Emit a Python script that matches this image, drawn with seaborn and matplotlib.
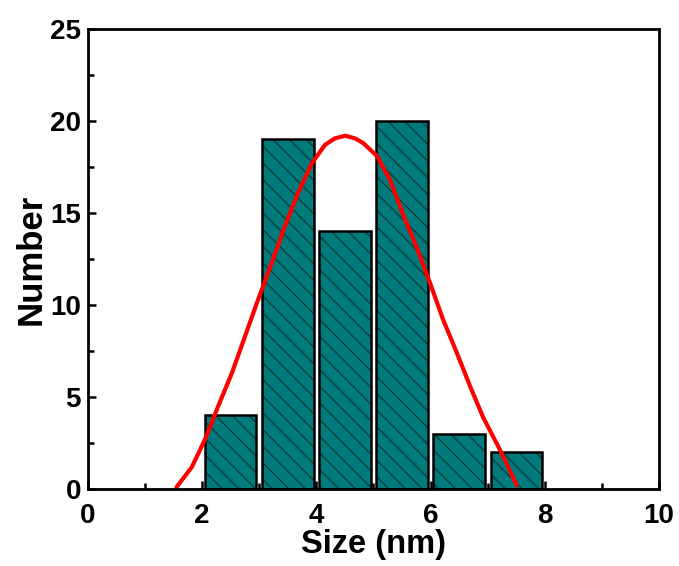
import numpy as np
import pandas as pd
import matplotlib
matplotlib.use("Agg")
import matplotlib.pyplot as plt
import seaborn as sns

# histogram data (bin centres / counts)
bin_edges = [2, 3, 4, 5, 6, 7, 8]
bin_centers = [2.5, 3.5, 4.5, 5.5, 6.5, 7.5]
counts = [4, 19, 14, 20, 3, 2]

# fitted curve
fit_x = [1.55, 1.82, 2.05, 2.28, 2.52, 2.75, 2.98, 3.22, 3.45, 3.68,
         3.92, 4.15, 4.32, 4.51, 4.68, 4.82, 5.06, 5.29, 5.52, 5.76,
         5.99, 6.22, 6.46, 6.69, 6.92, 7.22, 7.51]
fit_y = [0.1, 1.2, 2.7, 4.5, 6.3, 8.3, 10.3, 12.3, 14.3, 16.1,
         17.7, 18.7, 19.05, 19.2, 19.05, 18.8, 18.1, 16.8, 14.9, 13.1,
         11.2, 9.2, 7.4, 5.6, 3.9, 2.1, 0.2]

sns.set_style("ticks")
plt.rcParams['font.family'] = ['Liberation Sans', 'DejaVu Sans']
plt.rcParams['font.weight'] = 'bold'
plt.rcParams['text.color'] = 'black'
plt.rcParams['axes.labelcolor'] = 'black'
plt.rcParams['xtick.color'] = 'black'
plt.rcParams['ytick.color'] = 'black'
plt.rcParams['axes.edgecolor'] = 'black'
plt.rcParams['hatch.linewidth'] = 0.8

fig = plt.figure(figsize=(6.79, 5.66), dpi=100)
ax = fig.add_axes([0.1296, 0.136, 0.8409, 0.8128])

df = pd.DataFrame({'size': bin_centers, 'n': counts})
# filled, hatched bars
sns.histplot(data=df, x='size', weights='n', bins=bin_edges, shrink=0.9,
             color='#007a7a', alpha=1, edgecolor='#0b3434', linewidth=0, ax=ax)
for p in ax.patches:
    p.set_hatch('\\\\')
# black outlines on top
sns.histplot(data=df, x='size', weights='n', bins=bin_edges, shrink=0.9,
             fill=False, color='black', linewidth=1.8, ax=ax)

fit = pd.DataFrame({'x': fit_x, 'y': fit_y})
sns.lineplot(data=fit, x='x', y='y', color='#ff0000', linewidth=3, ax=ax)

ax.set_xlim(0, 10)
ax.set_ylim(0, 25)
ax.set_xticks([0, 2, 4, 6, 8, 10])
ax.set_yticks([0, 5, 10, 15, 20, 25])
ax.set_xticks(np.arange(1, 10, 2), minor=True)
ax.set_yticks(np.arange(2.5, 25, 5), minor=True)
ax.tick_params(which='both', direction='in', width=1.8)
ax.tick_params(which='major', length=6)
ax.tick_params(which='minor', length=4)
ax.tick_params(axis='x', which='major', labelsize=20, pad=10)
ax.tick_params(axis='y', which='major', labelsize=20, pad=5)
for s in ax.spines.values():
    s.set_linewidth(2)
    s.set_visible(True)
for lab in ax.get_xticklabels() + ax.get_yticklabels():
    lab.set_fontweight('bold')

ax.set_xlabel('Size (nm)', fontsize=23.5, fontweight='bold', labelpad=0)
ax.set_ylabel('Number', fontsize=25, fontweight='bold', labelpad=2)

fig.savefig('out.png', dpi=100)
